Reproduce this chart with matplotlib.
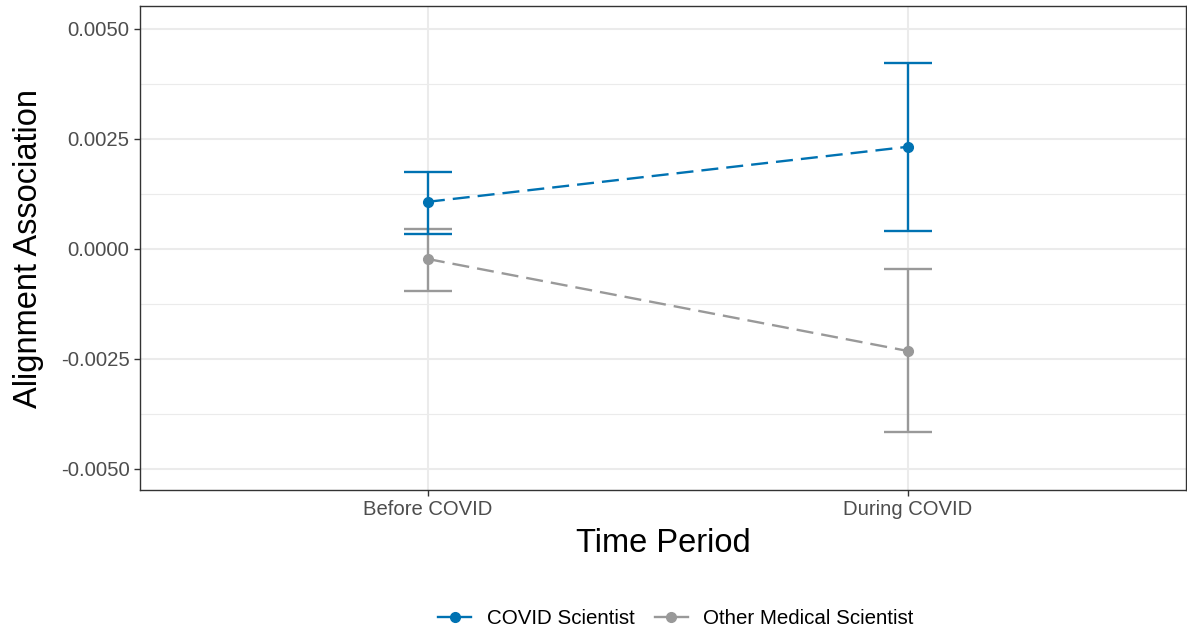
import matplotlib
matplotlib.use("Agg")
import matplotlib.pyplot as plt
from matplotlib.lines import Line2D

plt.rcParams['font.family'] = ['Liberation Sans', 'DejaVu Sans']

periods = ["Before COVID", "During COVID"]
groups = ["COVID Scientist", "Other Medical Scientist"]
colors = ["#0072B2", "#999999"]
estimates = {
    "COVID Scientist": [0.00107, 0.00232],
    "Other Medical Scientist": [-0.00023, -0.00232],
}
lower = {
    "COVID Scientist": [0.00034, 0.00041],
    "Other Medical Scientist": [-0.00095, -0.00416],
}
upper = {
    "COVID Scientist": [0.00175, 0.00423],
    "Other Medical Scientist": [0.00045, -0.00045],
}
yticks = [-0.005, -0.0025, 0.0, 0.0025, 0.005]
ytick_labels = ["-0.0050", "-0.0025", "0.0000", "0.0025", "0.0050"]

LW = 1.7
DASH = (0, (7.2, 3.4))

fig = plt.figure(figsize=(11.87, 6.30), dpi=100)
ax = fig.add_axes([140/1187, (630-490)/630, (1186-140)/1187, (490-6)/630])

x = [1, 2]
for g, c in zip(groups[::-1], colors[::-1]):
    est = estimates[g]
    lo = lower[g]
    hi = upper[g]
    yerr = [[e - l for e, l in zip(est, lo)], [h - e for e, h in zip(est, hi)]]
    ax.errorbar(x, est, yerr=yerr, fmt='none', ecolor=c, elinewidth=LW,
                capsize=17.3, capthick=LW, zorder=3)
    ax.plot(x, est, color=c, linestyle=DASH, linewidth=LW, zorder=4)
    ax.plot(x, est, 'o', color=c, markersize=7, zorder=5)

ax.set_xlim(0.4, 2.58)
ax.set_ylim(-0.00548, 0.00552)
ax.set_xticks(x)
ax.set_xticklabels(periods)
ax.set_yticks(yticks)
ax.set_yticklabels(ytick_labels)
ax.set_yticks([-0.00375, -0.00125, 0.00125, 0.00375], minor=True)
ax.grid(True, which='major', color='#EBEBEB', linewidth=1.5, zorder=0)
ax.grid(True, which='minor', axis='y', color='#EBEBEB', linewidth=0.8, zorder=0)
ax.set_axisbelow(True)
ax.tick_params(axis='both', which='major', labelsize=14.6, colors='#333333',
               labelcolor='#4D4D4D', length=4, width=1)
ax.tick_params(axis='both', which='minor', length=0)
for s in ax.spines.values():
    s.set_color('#333333')
    s.set_linewidth(1.0)

ax.set_xlabel("Time Period", fontsize=23.5, labelpad=6)
ax.set_ylabel("Alignment Association", fontsize=23.5, labelpad=12)

handles = [Line2D([0], [0], color=c, linestyle='-', linewidth=LW,
                  marker='o', markersize=7) for c in colors]
fig.legend(handles, groups, loc='center', bbox_to_anchor=(0.5695, (630-619)/630),
           ncol=2, frameon=False, fontsize=14.8, handlelength=1.6,
           columnspacing=1.0, handletextpad=0.75)

fig.savefig("out.png", dpi=100)
